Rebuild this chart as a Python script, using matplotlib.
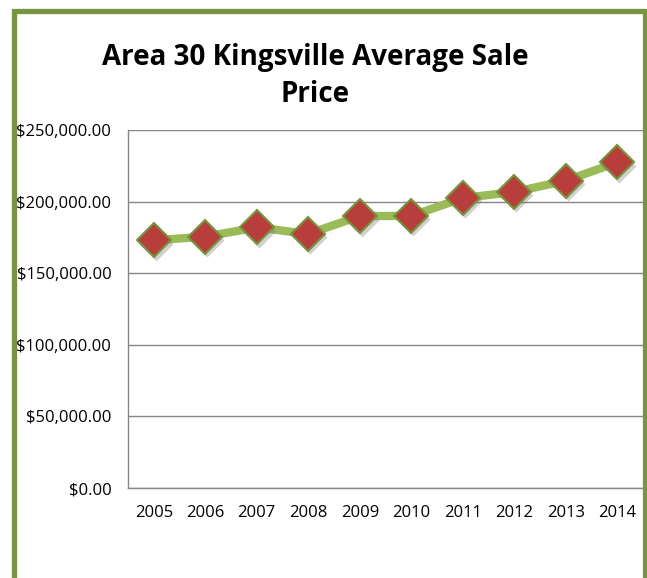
import matplotlib.pyplot as plt
import matplotlib.transforms as mtransforms
from matplotlib.patches import Rectangle
from matplotlib.ticker import FuncFormatter

years = ['2005', '2006', '2007', '2008', '2009', '2010', '2011', '2012', '2013', '2014']
avg_price = [173000, 175500, 182000, 177400, 189900, 190000, 202500, 206700, 214600, 227400]
y_ticks = [0, 50000, 100000, 150000, 200000, 250000]

plt.rcParams['font.family'] = ['Open Sans', 'DejaVu Sans']

fig = plt.figure(figsize=(6.47, 5.78), dpi=100)
ax = fig.add_axes([128 / 647, 90 / 578, 515 / 647, 358 / 578])

x = list(range(len(years)))
ax.plot(x, avg_price, color='#9BBB59', lw=6, solid_capstyle='butt', zorder=2)

# soft drop shadow under the markers
shadow = ax.transData + mtransforms.ScaledTranslation(1.5 / 72, -2.5 / 72, fig.dpi_scale_trans)
ax.plot(x, avg_price, ls='none', marker='D', ms=17, mfc='#7a7a7a', mec='none',
        alpha=0.35, transform=shadow, zorder=2.5)
ax.plot(x, avg_price, ls='none', marker='D', ms=17, mfc='#B83E3B', mec='#77933C',
        mew=1.5, zorder=3)

ax.set_xlim(-0.5, len(years) - 0.5)
ax.set_ylim(0, 250000)
ax.set_xticks(x)
ax.set_xticklabels(years)
ax.set_yticks(y_ticks)
ax.yaxis.set_major_formatter(FuncFormatter(lambda v, p: f'${v:,.2f}'))
ax.tick_params(length=0, labelsize=12, colors='black')
ax.tick_params(axis='y', pad=12)
ax.tick_params(axis='x', pad=12)
ax.grid(axis='y', color='#868686', lw=1)
ax.set_axisbelow(True)
for s in ['top', 'right']:
    ax.spines[s].set_visible(False)
for s in ['left', 'bottom']:
    ax.spines[s].set_color('#868686')
    ax.spines[s].set_linewidth(1)

fig.text(315 / 647, 1 - 57 / 578, 'Area 30 Kingsville Average Sale', ha='center', va='center',
         fontsize=20, fontweight='bold')
fig.text(315 / 647, 1 - 94 / 578, 'Price', ha='center', va='center',
         fontsize=20, fontweight='bold')

fig.patches.append(Rectangle((13.5 / 647, -0.05), (645 - 13.5) / 647, 1.05 - 11.5 / 578,
                             transform=fig.transFigure, fill=False, ec='#789440', lw=3.8))

fig.savefig('out.png', dpi=100)
